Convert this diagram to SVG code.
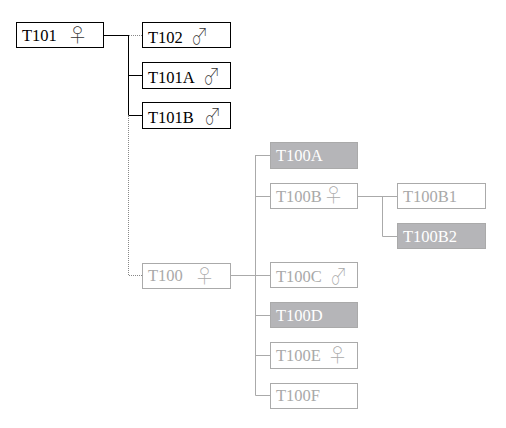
<svg xmlns="http://www.w3.org/2000/svg" width="506" height="428" viewBox="0 0 506 428">
<style>
text{font-family:"Liberation Serif","Times New Roman",serif;font-size:16.500px}
.b rect{fill:#fff;stroke:#000;stroke-width:1}
.b text{fill:#000}
.g rect{fill:#fff;stroke:#aaa;stroke-width:1}
.g text{fill:#a9a9a9}
.f rect{fill:#b5b5b8;stroke:#aaa;stroke-width:1}
.f text{fill:#fff}
text.s{font-family:"Noto Sans CJK JP","Noto Sans CJK SC",sans-serif;font-size:21px;font-weight:100}
.b text.s{fill:#333}
#connectors path{fill:none;stroke-width:1}
.k{stroke:#000}.h{stroke:#aaa}.d{stroke:#888;stroke-dasharray:1 1}
</style>
<g id="connectors">
<path class="k" d="M104 35.500H129M128.500 35V115.500M129 75.500H142M129 115.500H142"/>
<path class="d" d="M129 35.500H142M128.500 116V275.500H142"/>
<path class="h" d="M231 275.500H270M255.500 155V395.500M255.500 155.500H270M255.500 196.500H270M255.500 315.500H270M255.500 355.500H270M255.500 395.500H270M358 196.500H397M382.500 196.500V236.500H397"/>
</g>
<g id="T101" class="b"><rect x="16.500" y="22.500" width="87" height="25"/><text x="22" y="41">T101</text><text class="s" transform="translate(67 42.300) scale(1 .88)">♀</text></g>
<g id="T102" class="b"><rect x="142.500" y="22.500" width="88" height="25"/><text x="148" y="43">T102</text><text class="s" transform="translate(191 44) scale(.82 1.05)">♂</text></g>
<g id="T101A" class="b"><rect x="142.500" y="62.500" width="88" height="26"/><text x="148" y="83">T101A</text><text class="s" transform="translate(203 84) scale(.82 1.05)">♂</text></g>
<g id="T101B" class="b"><rect x="142.500" y="102.500" width="88" height="26"/><text x="148" y="123">T101B</text><text class="s" transform="translate(204 124) scale(.82 1.05)">♂</text></g>
<g id="T100" class="g"><rect x="142.500" y="263.500" width="88" height="25"/><text x="148" y="281">T100</text><text class="s" transform="translate(194 283.300) scale(1 .88)">♀</text></g>
<g id="T100A" class="f"><rect x="270.500" y="142.500" width="87" height="26"/><text x="276" y="161">T100A</text></g>
<g id="T100B" class="g"><rect x="270.500" y="183.500" width="87" height="25"/><text x="276" y="202">T100B</text><text class="s" transform="translate(323 202.300) scale(1 .88)">♀</text></g>
<g id="T100B1" class="g"><rect x="397.500" y="183.500" width="88" height="25"/><text x="403" y="202">T100B1</text></g>
<g id="T100B2" class="f"><rect x="397.500" y="223.500" width="88" height="25"/><text x="403" y="242">T100B2</text></g>
<g id="T100C" class="g"><rect x="270.500" y="262.500" width="87" height="25"/><text x="276" y="282">T100C</text><text class="s" transform="translate(330 284) scale(.82 1.05)">♂</text></g>
<g id="T100D" class="f"><rect x="270.500" y="302.500" width="87" height="25"/><text x="276" y="321">T100D</text></g>
<g id="T100E" class="g"><rect x="270.500" y="342.500" width="87" height="26"/><text x="276" y="361">T100E</text><text class="s" transform="translate(327 362.300) scale(1 .88)">♀</text></g>
<g id="T100F" class="g"><rect x="270.500" y="383.500" width="87" height="25"/><text x="276" y="401">T100F</text></g>
</svg>
